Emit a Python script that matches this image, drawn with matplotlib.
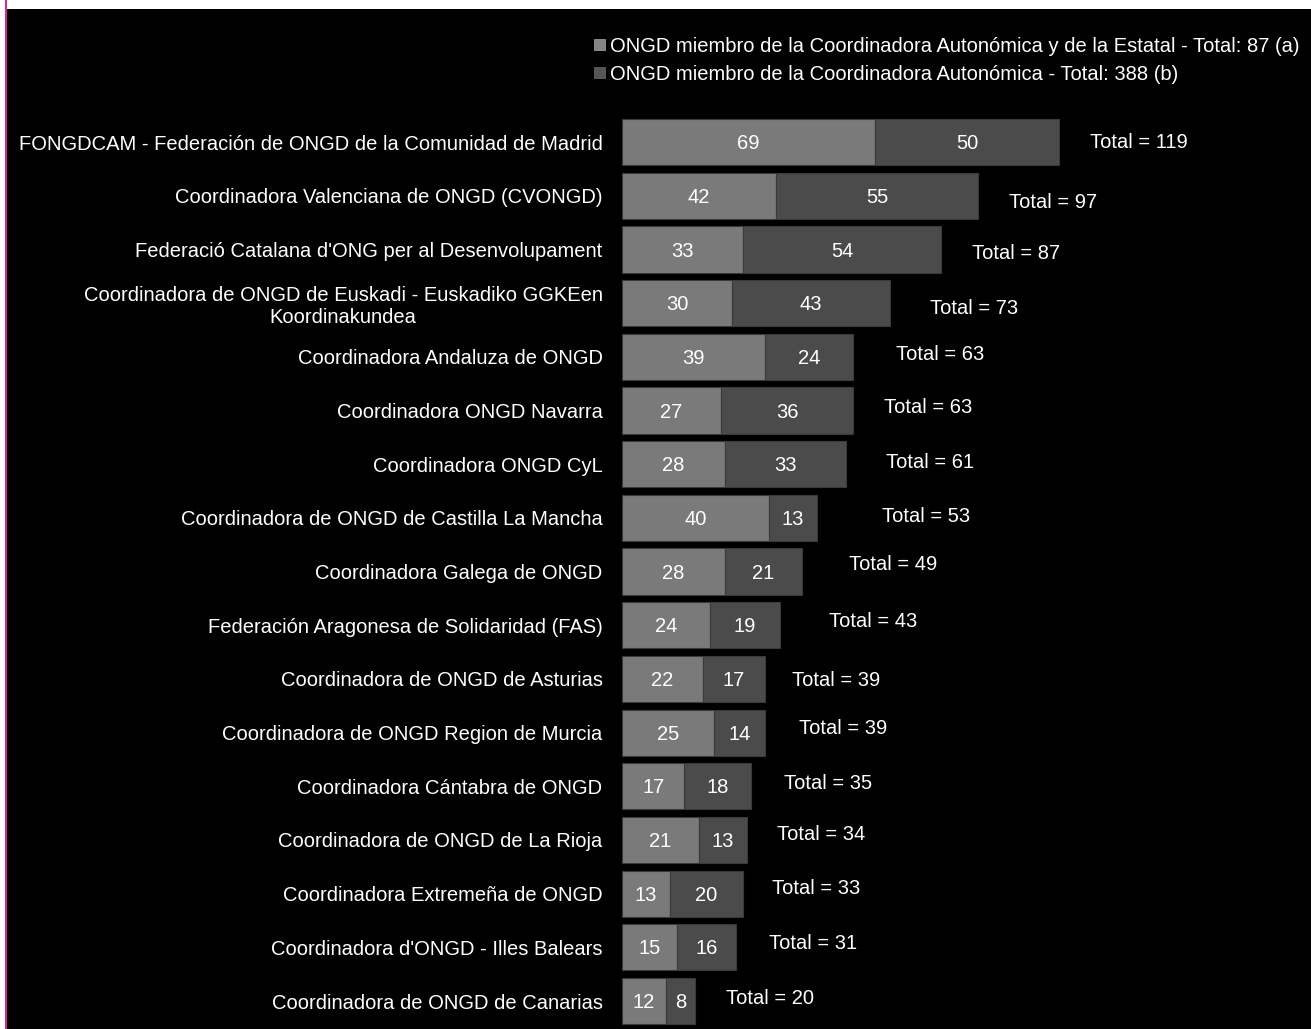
import matplotlib
matplotlib.use("Agg")
import numpy as np
from matplotlib import pyplot as plt
from matplotlib.patches import Patch, Rectangle
from matplotlib.lines import Line2D

plt.rcParams['font.family'] = ['Liberation Sans', 'DejaVu Sans']

categories = [
    "FONGDCAM - Federación de ONGD de la Comunidad de Madrid",
    "Coordinadora Valenciana de ONGD (CVONGD)",
    "Federació Catalana d'ONG per al Desenvolupament",
    "Coordinadora de ONGD de Euskadi - Euskadiko GGKEen\nKoordinakundea",
    "Coordinadora Andaluza de ONGD",
    "Coordinadora ONGD Navarra",
    "Coordinadora ONGD CyL",
    "Coordinadora de ONGD de Castilla La Mancha",
    "Coordinadora Galega de ONGD",
    "Federación Aragonesa de Solidaridad (FAS)",
    "Coordinadora de ONGD de Asturias",
    "Coordinadora de ONGD Region de Murcia",
    "Coordinadora Cántabra de ONGD",
    "Coordinadora de ONGD de La Rioja",
    "Coordinadora Extremeña de ONGD",
    "Coordinadora d'ONGD - Illes Balears",
    "Coordinadora de ONGD de Canarias",
]
autonomica_estatal = [69, 42, 33, 30, 39, 27, 28, 40, 28, 24, 22, 25, 17, 21, 13, 15, 12]
autonomica = [50, 55, 54, 43, 24, 36, 33, 13, 21, 19, 17, 14, 18, 13, 20, 16, 8]
legend_labels = [
    "ONGD miembro de la Coordinadora Autonómica y de la Estatal - Total: 87 (a)",
    "ONGD miembro de la Coordinadora Autonómica - Total: 388 (b)",
]

# placement of the "Total = n" labels (offset in points from bar end)
total_dx = [22, 22, 22, 29, 31, 22, 29, 47, 34, 35, 19, 24, 24, 22, 21, 24, 22]
total_dy = [0, -5, -3, -4, 2, 2, 1, 1, 5, 3, -1, 3, 2, 4, 4, 3, 2]

W, H = 1311, 1029
fig = plt.figure(figsize=(W / 100, H / 100), dpi=100, facecolor='white')
fig.patches.append(Rectangle((7 / W, 0), 1 - 7 / W, 1 - 9 / H, transform=fig.transFigure,
                             facecolor='black', edgecolor='none', zorder=-10))
fig.lines.append(Line2D([6 / W, 6 / W], [0, 1], transform=fig.transFigure,
                        color='#c8338a', lw=1.5))

top_px, bot_px = 115.2, 1027.9
ax = fig.add_axes([622 / W, 1 - bot_px / H, (W - 622) / W, (bot_px - top_px) / H])
ax.set_facecolor('black')
ax.patch.set_alpha(0)

c1, c2 = '#7a7a7a', '#4b4b4b'
y = np.arange(len(categories))
a = np.array(autonomica_estatal)
b = np.array(autonomica)
ax.barh(y, a, height=0.86, color=c1, edgecolor='#3a3a3a', linewidth=0.8)
ax.barh(y, b, left=a, height=0.86, color=c2, edgecolor='#3a3a3a', linewidth=0.8)

fs = 14.5
for i in range(len(y)):
    ax.text(a[i] / 2, y[i] + 0.03, str(a[i]), color='white', ha='center', va='center', fontsize=fs)
    ax.text(a[i] + b[i] / 2, y[i] + 0.03, str(b[i]), color='white', ha='center', va='center', fontsize=fs)
    ax.annotate(f"Total = {a[i] + b[i]}", (a[i] + b[i], y[i]),
                xytext=(total_dx[i], total_dy[i]), textcoords='offset points',
                color='white', ha='left', va='center', fontsize=fs)

ax.set_xlim(0, (W - 622) / 3.672)
ax.set_ylim(len(categories) - 0.5, -0.5)
ax.set_yticks(y)
ax.set_yticklabels(categories, color='white', fontsize=fs, multialignment='center')
ax.tick_params(axis='y', length=0, pad=14)
ax.set_xticks([])
for s in ax.spines.values():
    s.set_visible(False)

handles = [Patch(facecolor='#858585'), Patch(facecolor='#555555')]
leg = fig.legend(handles, legend_labels, loc='upper right', bbox_to_anchor=(1300 / W, 1 - 37 / H),
                 frameon=False, fontsize=fs, handlelength=0.6, handleheight=0.6,
                 handletextpad=0.2, labelspacing=0.45, borderaxespad=0, borderpad=0)
for t in leg.get_texts():
    t.set_color('white')

fig.savefig('out.png', dpi=100, facecolor=fig.get_facecolor())
